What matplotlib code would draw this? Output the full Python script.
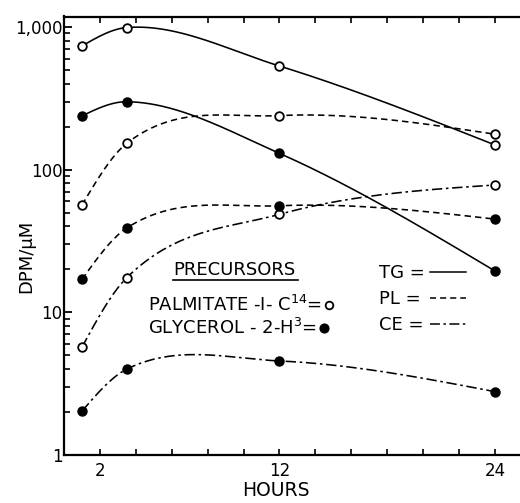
import numpy as np
import matplotlib
matplotlib.use("Agg")
import matplotlib.pyplot as plt
from matplotlib.ticker import FixedLocator, NullFormatter, FuncFormatter

# ---- data ----
hours = [1, 3.5, 12, 24]
tg_palmitate = [735, 990, 532, 149]
pl_palmitate = [56.5, 153, 239, 177]
ce_palmitate = [5.7, 17.5, 48.6, 78]
tg_glycerol = [238, 299, 130, 19.5]
pl_glycerol = [17, 39, 55.8, 45]
ce_glycerol = [2.03, 4.0, 4.56, 2.78]

x_ticks = [2, 12, 24]
y_ticks = [1, 10, 100, 1000]
y_tick_labels = ["1", "10", "100", "1,000"]

W, H = 520, 503
fig = plt.figure(figsize=(W / 100, H / 100), dpi=100)
AX_L, AX_B, AX_T = 64, 455, 16.5
ax = fig.add_axes([AX_L / W, 1 - AX_B / H, 1 - AX_L / W, (AX_B - AX_T) / H])


def smooth_curve(x, y, xs):
    """Cubic Hermite curve through the points; interior tangents are the
    mean of the neighbouring chord slopes, end tangents natural-like."""
    x = np.asarray(x, float)
    y = np.asarray(y, float)
    h = np.diff(x)
    d = np.diff(y) / h
    n = len(x)
    m = np.zeros(n)
    for i in range(1, n - 1):
        m[i] = 0.5 * (d[i - 1] + d[i])
    m[0] = (3 * d[0] - m[1]) / 2
    m[-1] = (3 * d[-1] - m[-2]) / 2
    out = np.empty_like(xs)
    for j, xv in enumerate(xs):
        i = min(max(np.searchsorted(x, xv) - 1, 0), n - 2)
        t = (xv - x[i]) / h[i]
        h00 = 2 * t ** 3 - 3 * t ** 2 + 1
        h10 = t ** 3 - 2 * t ** 2 + t
        h01 = -2 * t ** 3 + 3 * t ** 2
        h11 = t ** 3 - t ** 2
        out[j] = h00 * y[i] + h10 * h[i] * m[i] + h01 * y[i + 1] + h11 * h[i] * m[i + 1]
    return out


styles = {
    "TG": dict(linestyle="-"),
    "PL": dict(linestyle=(0, (4, 2.6))),
    "CE": dict(linestyle=(0, (6.5, 2.3, 1.6, 2.3))),
}

series = [
    (tg_palmitate, "TG", False),
    (pl_palmitate, "PL", False),
    (ce_palmitate, "CE", False),
    (tg_glycerol, "TG", True),
    (pl_glycerol, "PL", True),
    (ce_glycerol, "CE", True),
]

xs = np.linspace(hours[0], hours[-1], 400)
for vals, kind, filled in series:
    ys = 10 ** smooth_curve(hours, np.log10(vals), xs)
    ax.plot(xs, ys, color="black", lw=1.15, **styles[kind])
    ax.plot(hours, vals, "o", ms=6.2, mec="black", mew=1.3,
            mfc="black" if filled else "white", zorder=5)

ax.set_yscale("log")
ax.set_xlim(0, 25.4)
ax.set_ylim(1, 1183)

ax.yaxis.set_major_locator(FixedLocator(y_ticks))
ax.yaxis.set_major_formatter(FuncFormatter(
    lambda v, p: y_tick_labels[y_ticks.index(int(round(v)))] if int(round(v)) in y_ticks else ""))
minor = [m * 10 ** e for e in range(0, 3) for m in range(2, 10)]
ax.yaxis.set_minor_locator(FixedLocator(minor))
ax.yaxis.set_minor_formatter(NullFormatter())

ax.xaxis.set_major_locator(FixedLocator(x_ticks))
ax.xaxis.set_minor_locator(FixedLocator(list(range(2, 26, 2))))

ax.tick_params(axis="y", which="major", direction="in", length=6, width=1.3,
               labelsize=12, pad=1)
ax.tick_params(axis="y", which="minor", direction="in", length=4.5, width=1.2)
ax.tick_params(axis="x", which="both", direction="in", length=4, width=1.2,
               top=True, labelsize=12, pad=5)

for s in ["left", "bottom", "top"]:
    ax.spines[s].set_linewidth(1.6)
ax.spines["right"].set_visible(False)

fig.text(26 / W, 1 - 256 / H, "DPM/μM", rotation=90, ha="center", va="center",
         fontsize=13)
fig.text(276 / W, 1 - 491 / H, "HOURS", ha="center", va="center", fontsize=13.5)


def ax_xy(px, py):
    return (px - AX_L) / (W - AX_L), (AX_B - py) / (AX_B - AX_T)


# annotation block
fs = 13
fig.text(173 / W, 1 - 275 / H, "PRECURSORS", ha="left", va="baseline",
         fontsize=fs)
(x0, y0), (x1, _) = ax_xy(173, 280), ax_xy(298, 280)
ax.plot([x0, x1], [y0, y0], color="black", lw=1.2,
        transform=ax.transAxes, clip_on=False)

fig.canvas.draw()
renderer = fig.canvas.get_renderer()
for label, ypix, filled in [("PALMITATE -I- C$^{14}$=", 311, False),
                            ("GLYCEROL - 2-H$^{3}$=", 334, True)]:
    t = fig.text(148 / W, 1 - ypix / H, label, ha="left", va="baseline",
                 fontsize=fs)
    bb = t.get_window_extent(renderer)
    mx, my = ax_xy(bb.x1 + 7, ypix - 6)
    ax.plot([mx], [my], "o", ms=6 if filled else 5.5, mec="black",
            mew=1.3, mfc="black" if filled else "white",
            transform=ax.transAxes, clip_on=False)

for lab, ypix, kind in [("TG =", 278, "TG"), ("PL =", 304, "PL"),
                        ("CE =", 330, "CE")]:
    fig.text(379 / W, 1 - ypix / H, lab, ha="left", va="baseline", fontsize=fs)
    (x0, yl), (x1, _) = ax_xy(430, ypix - 6), ax_xy(466, ypix - 6)
    ax.plot([x0, x1], [yl, yl], color="black", lw=1.1,
            transform=ax.transAxes, clip_on=False, **styles[kind])

fig.savefig("out.png", dpi=100)
